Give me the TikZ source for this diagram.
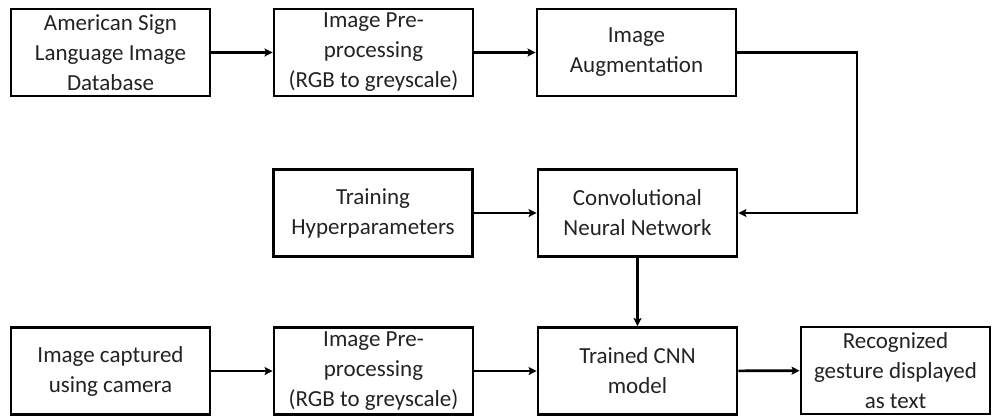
\documentclass[tikz,border=0pt]{standalone}
\usepackage{fontspec}
\setmainfont{Carlito}
\usetikzlibrary{arrows.meta}
\definecolor{labelgray}{RGB}{35,35,35}
\begin{document}
\begin{tikzpicture}[x=1bp,y=-1bp,
  stagebox/.style={draw=black, line width=2.8bp, minimum width=199bp, minimum height=87bp,
    inner sep=0pt, align=center, text=labelgray,
    font=\fontsize{23bp}{30bp}\selectfont},
  flow/.style={draw=black, line width=2.6bp, -{Stealth[length=8bp,width=8bp,inset=1.5bp]}}]
  \useasboundingbox (0,0) rectangle (992,415);

  % training pipeline
  \node[stagebox] (asl)  at (110.5,52.5) {American Sign\\Language Image\\Database};
  \node[stagebox] (pre1) at (373.5,52.5) {Image Pre-\\processing\\(RGB to greyscale)};
  \node[stagebox] (aug)  at (636.5,52.5) {Image\\Augmentation};
  \node[stagebox] (hyp)  at (373,213) {Training\\Hyperparameters};
  \node[stagebox] (cnn)  at (637.5,213) {Convolutional\\Neural Network};

  % recognition pipeline
  \node[stagebox] (cam)  at (110.5,371) {Image captured\\using camera};
  \node[stagebox] (pre2) at (373.5,371) {Image Pre-\\processing\\(RGB to greyscale)};
  \node[stagebox] (model) at (637.5,371) {Trained CNN\\model};
  \node[stagebox, minimum width=189bp] (out) at (895.5,370.5) {Recognized\\gesture displayed\\as text};

  \coordinate (turn) at (857,52.5);

  \draw[flow] (asl) -- (pre1);
  \draw[flow] (pre1) -- (aug);
  \draw[flow] (aug.east) -- (turn) |- (cnn.east);
  \draw[flow] (hyp) -- (cnn);
  \draw[flow] (cnn) -- (model);
  \draw[flow] (cam) -- (pre2);
  \draw[flow] (pre2) -- (model);
  \draw[flow] (model) -- (out);
\end{tikzpicture}
\end{document}
